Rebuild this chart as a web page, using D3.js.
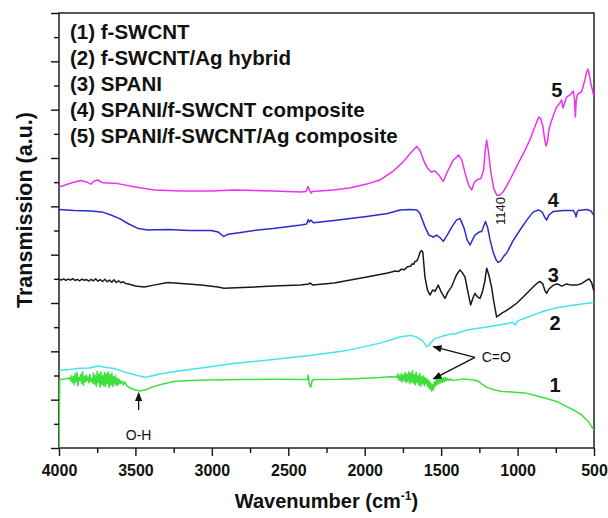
<!DOCTYPE html>
<html>
<head>
<meta charset="utf-8">
<script src="https://cdn.jsdelivr.net/npm/d3@7"></script>
<style>
  body { margin: 0; background: #fff; }
  svg { display: block; font-family: Arial, "Liberation Sans", sans-serif; }
</style>
</head>
<body>
<svg id="chart" width="608" height="518"></svg>
<script>
// wavenumber (cm-1), transmission (a.u.)
const spec1 = [
  [4000, 0], [3995, 2.83], [3960, 2.86],
  [3930, 2.90], [3924, 2.78], [3918, 3.00], [3912, 2.70], [3906, 2.95], [3900, 2.62], [3894, 3.08],
  [3888, 2.74], [3882, 3.12], [3876, 2.58], [3870, 2.92], [3864, 2.80], [3858, 3.05], [3852, 2.66],
  [3846, 3.16], [3840, 2.60], [3834, 2.98], [3828, 2.72], [3822, 3.02], [3816, 2.78], [3810, 2.94],
  [3804, 2.69], [3798, 3.04], [3792, 2.75], [3786, 2.88], [3780, 2.68], [3774, 3.10], [3768, 2.64],
  [3762, 3.00], [3756, 2.56], [3750, 3.18], [3744, 2.70], [3738, 3.06], [3732, 2.52], [3726, 3.14],
  [3720, 2.62], [3714, 3.00], [3708, 2.58], [3702, 3.12], [3696, 2.54], [3690, 3.08], [3684, 2.66],
  [3678, 3.16], [3672, 2.50], [3666, 3.04], [3660, 2.60], [3654, 3.10], [3648, 2.55], [3642, 2.96],
  [3636, 2.64], [3630, 3.00], [3624, 2.58], [3618, 2.88], [3612, 2.62], [3606, 2.84], [3600, 2.66],
  [3590, 2.78], [3580, 2.62], [3570, 2.74], [3560, 2.60],
  [3535, 2.48], [3500, 2.40], [3470, 2.36], [3430, 2.42], [3383, 2.54], [3320, 2.65],
  [3252, 2.75], [3134, 2.79], [3034, 2.81], [2800, 2.83], [2600, 2.84], [2420, 2.83], [2375, 2.83],
  [2369, 3.02], [2362, 2.61], [2352, 2.52], [2345, 2.77], [2335, 2.83], [2162, 2.84], [2096, 2.86],
  [1900, 2.92], [1835, 2.95], [1800, 2.94],
  [1790, 2.94], [1784, 3.06], [1778, 2.82], [1772, 3.00], [1766, 2.78], [1760, 3.08], [1754, 2.74],
  [1748, 3.02], [1742, 2.80], [1736, 3.12], [1730, 2.70], [1724, 3.06], [1718, 2.76], [1712, 3.16],
  [1706, 2.66], [1700, 3.10], [1694, 2.72], [1688, 3.20], [1682, 2.68], [1676, 3.04], [1670, 2.62],
  [1664, 3.14], [1658, 2.70], [1652, 3.00], [1646, 2.60], [1640, 3.08], [1634, 2.56], [1628, 2.96],
  [1622, 2.66], [1616, 2.98], [1610, 2.58], [1604, 2.92], [1598, 2.64], [1592, 2.86], [1586, 2.52],
  [1580, 2.80], [1574, 2.44], [1568, 2.70], [1562, 2.36], [1556, 2.62], [1550, 2.40], [1544, 2.74],
  [1538, 2.56], [1532, 2.86], [1526, 2.62], [1520, 2.90], [1514, 2.66], [1508, 2.92], [1502, 2.70],
  [1496, 2.88], [1490, 2.72], [1484, 2.90], [1478, 2.76], [1472, 2.92], [1466, 2.78], [1460, 2.88],
  [1450, 2.80], [1440, 2.86], [1430, 2.80],
  [1398, 2.81], [1350, 2.86], [1290, 2.81], [1260, 2.77], [1230, 2.63], [1202, 2.51], [1150, 2.40],
  [1100, 2.34], [1071, 2.33], [1000, 2.30], [950, 2.28], [897, 2.19], [800, 2.03], [734, 1.90],
  [679, 1.71], [620, 1.53], [582, 1.37], [540, 1.12], [500, 0.74]
];

const spec2 = [
  [4000, 3.21], [3900, 3.27], [3863, 3.30], [3800, 3.31], [3743, 3.39], [3700, 3.34], [3640, 3.29],
  [3580, 3.16], [3500, 3.02], [3437, 2.93], [3380, 3.00], [3339, 3.06], [3240, 3.17], [3034, 3.34],
  [2861, 3.50], [2598, 3.66], [2424, 3.79], [2358, 3.83], [2162, 3.99], [2096, 4.06], [1900, 4.34],
  [1769, 4.59], [1700, 4.66], [1660, 4.59], [1620, 4.43], [1595, 4.20], [1584, 4.22], [1560, 4.41],
  [1540, 4.53], [1500, 4.61], [1450, 4.70], [1400, 4.74], [1333, 4.88], [1200, 5.01], [1100, 5.11],
  [1040, 5.19], [1028, 5.17], [1015, 5.09], [1000, 5.26], [950, 5.38], [897, 5.50], [835, 5.65],
  [750, 5.79], [650, 5.90], [580, 5.96], [500, 6.02]
];

const spec3 = [
  [4000, 6.98], [3985, 6.95], [3970, 7.00], [3955, 6.94], [3940, 6.99], [3925, 6.95], [3910, 7.01],
  [3895, 6.93], [3880, 6.98], [3865, 6.92], [3850, 6.99], [3835, 6.94], [3820, 6.97], [3805, 6.91],
  [3790, 6.98], [3775, 6.92], [3760, 7.00], [3745, 6.90], [3730, 6.97], [3715, 6.89], [3700, 6.98],
  [3685, 6.88], [3670, 6.95], [3655, 6.86], [3640, 6.96], [3625, 6.85], [3610, 6.92], [3595, 6.84],
  [3580, 6.88], [3565, 6.81], [3550, 6.80], [3500, 6.70], [3442, 6.66], [3380, 6.74], [3289, 6.85],
  [3200, 6.81], [3071, 6.74], [2960, 6.66], [2921, 6.61], [2800, 6.64], [2600, 6.70], [2420, 6.74],
  [2365, 6.79], [2358, 6.83], [2340, 6.74], [2200, 6.83], [1987, 7.08], [1850, 7.24], [1800, 7.32],
  [1780, 7.30], [1760, 7.40], [1740, 7.38], [1720, 7.50], [1700, 7.52], [1690, 7.62], [1680, 7.60],
  [1671, 7.72], [1660, 7.74], [1650, 7.86], [1640, 8.07], [1630, 8.17], [1620, 8.11], [1606, 7.08],
  [1590, 6.54], [1573, 6.33], [1555, 6.54], [1540, 6.48], [1519, 6.74], [1500, 6.46], [1475, 6.19],
  [1455, 6.46], [1431, 6.68], [1400, 7.16], [1377, 7.37], [1360, 7.24], [1344, 7.08], [1325, 6.46],
  [1307, 5.92], [1292, 6.21], [1279, 6.40], [1262, 6.25], [1246, 6.19], [1230, 6.46], [1215, 6.87],
  [1202, 7.44], [1188, 7.16], [1170, 6.66], [1155, 6.04], [1137, 5.42], [1120, 5.50], [1100, 5.59],
  [1082, 5.65], [1040, 5.83], [1006, 5.99], [950, 6.33], [897, 6.67], [870, 6.83], [853, 6.89],
  [835, 6.79], [820, 6.50], [810, 6.40], [795, 6.58], [766, 6.74], [740, 6.79], [710, 6.70],
  [679, 6.79], [650, 6.74], [614, 6.74], [580, 6.81], [547, 6.95], [530, 6.99], [515, 6.83],
  [500, 6.48]
];

const spec4 = [
  [4000, 9.87], [3900, 9.83], [3791, 9.81], [3720, 9.77], [3660, 9.64], [3600, 9.48], [3550, 9.29],
  [3480, 9.08], [3420, 9.02], [3289, 9.04], [3150, 9.00], [3005, 9.00], [2960, 8.94], [2923, 8.75],
  [2900, 8.83], [2857, 8.88], [2700, 9.02], [2600, 9.08], [2417, 9.23], [2380, 9.27], [2370, 9.45],
  [2362, 9.35], [2352, 9.43], [2336, 9.32], [2200, 9.41], [1987, 9.58], [1850, 9.70], [1769, 9.85],
  [1700, 9.87], [1660, 9.85], [1640, 9.72], [1606, 9.16], [1580, 8.81], [1551, 8.73], [1529, 8.81],
  [1505, 8.69], [1486, 8.55], [1460, 8.81], [1431, 9.14], [1400, 9.43], [1377, 9.50], [1350, 9.10],
  [1330, 8.61], [1311, 8.40], [1295, 8.61], [1279, 8.81], [1250, 8.94], [1235, 8.96], [1210, 9.37],
  [1195, 9.10], [1180, 8.61], [1160, 8.11], [1140, 7.78], [1126, 7.68], [1110, 7.74], [1090, 7.94],
  [1071, 8.07], [1030, 8.57], [984, 9.02], [940, 9.43], [897, 9.77], [864, 9.85], [840, 9.77],
  [820, 9.52], [810, 9.43], [795, 9.64], [766, 9.79], [700, 9.83], [635, 9.83], [622, 9.68],
  [617, 9.56], [610, 9.77], [603, 9.83], [547, 9.87], [520, 9.81], [500, 9.62]
];

const spec5 = [
  [4000, 10.80], [3900, 11.01], [3856, 11.07], [3820, 11.01], [3791, 10.92], [3770, 11.05],
  [3747, 11.09], [3720, 10.99], [3681, 10.97], [3616, 10.94], [3500, 10.80], [3376, 10.68],
  [3200, 10.63], [3000, 10.63], [2855, 10.68], [2600, 10.63], [2417, 10.59], [2385, 10.61],
  [2370, 10.82], [2362, 10.68], [2352, 10.55], [2345, 10.61], [2206, 10.68], [2100, 10.76],
  [1987, 10.92], [1900, 11.09], [1813, 11.46], [1750, 11.83], [1700, 12.21], [1660, 12.48],
  [1640, 12.33], [1610, 11.83], [1590, 11.59], [1565, 11.42], [1540, 11.46], [1515, 11.30],
  [1486, 11.03], [1460, 11.42], [1420, 11.92], [1385, 12.12], [1365, 11.92], [1340, 11.30],
  [1318, 10.84], [1300, 10.68], [1285, 10.97], [1268, 11.09], [1240, 11.15], [1222, 11.50],
  [1210, 12.41], [1202, 12.74], [1192, 12.33], [1175, 11.42], [1155, 10.72], [1135, 10.45],
  [1115, 10.47], [1093, 10.61], [1050, 11.09], [1006, 11.65], [960, 12.21], [920, 12.74],
  [890, 13.24], [870, 13.57], [860, 13.70], [848, 13.61], [835, 13.32], [822, 12.74], [814, 12.50],
  [805, 12.66], [795, 13.16], [785, 13.41], [760, 13.86], [745, 14.11], [723, 14.28], [712, 14.40],
  [703, 14.07], [690, 14.32], [679, 14.52], [657, 14.61], [635, 14.77], [627, 14.40], [622, 13.70],
  [616, 14.40], [609, 14.61], [595, 14.69], [580, 14.75], [560, 15.23], [547, 15.58], [540, 15.68],
  [530, 15.43], [520, 15.06], [510, 14.81], [500, 14.52]
];

const seriesNames = [
  "(1) f-SWCNT",
  "(2) f-SWCNT/Ag hybrid",
  "(3) SPANI",
  "(4) SPANI/f-SWCNT composite",
  "(5) SPANI/f-SWCNT/Ag composite"
];
const seriesColors = ["#3ee03e", "#40e4f0", "#1a1a1a", "#2b2bd0", "#f030f0"];
const allSpectra = [spec1, spec2, spec3, spec4, spec5];

// curve number labels: [label, wavenumber, a.u.]
const curveTags = [["1", 755, 2.61], ["2", 755, 5.17], ["3", 766, 7.16], ["4", 766, 10.26], ["5", 744, 14.81]];

const xTicks = [4000, 3500, 3000, 2500, 2000, 1500, 1000, 500];
const xMinor = [3750, 3250, 2750, 2250, 1750, 1250, 750];

const width = 608, height = 518;
const margin = { top: 13, right: 14, bottom: 70, left: 59 };

const svg = d3.select("#chart");

const x = d3.scaleLinear().domain([4000, 500]).range([margin.left, width - margin.right]);
const y = d3.scaleLinear().domain([0, 18]).range([height - margin.bottom, margin.top]);

svg.append("clipPath").attr("id", "clip")
  .append("rect")
  .attr("x", margin.left).attr("y", margin.top)
  .attr("width", x(500) - x(4000)).attr("height", y(0) - y(18));

// axes
const xAxis = svg.append("g")
  .attr("transform", `translate(0,${y(0)})`)
  .call(d3.axisBottom(x).tickValues(xTicks).tickSize(8).tickPadding(8.5).tickFormat(d3.format("d")));
svg.append("g")
  .attr("transform", `translate(0,${y(0)})`)
  .call(d3.axisBottom(x).tickValues(xMinor).tickSize(5).tickFormat(""));
svg.append("g")
  .attr("transform", `translate(${x(4000)},0)`)
  .call(d3.axisLeft(y).tickValues(d3.range(0, 19, 2)).tickSize(8).tickFormat(""));
svg.append("g")
  .attr("transform", `translate(${x(4000)},0)`)
  .call(d3.axisLeft(y).tickValues(d3.range(1, 18, 2)).tickSize(5).tickFormat(""));

svg.selectAll(".domain").remove();
svg.selectAll(".tick line").attr("stroke", "#111").attr("stroke-width", 1.4);
xAxis.selectAll("text")
  .attr("fill", "#111")
  .style("font-size", "16px")
  .style("font-weight", "bold");

svg.append("rect")
  .attr("x", x(4000)).attr("y", y(18))
  .attr("width", x(500) - x(4000)).attr("height", y(0) - y(18))
  .attr("fill", "none").attr("stroke", "#111").attr("stroke-width", 1.4);

// spectra
const line = d3.line().x(d => x(d[0])).y(d => y(d[1]));

svg.append("g").attr("clip-path", "url(#clip)")
  .selectAll("path")
  .data(allSpectra)
  .join("path")
  .attr("d", line)
  .attr("fill", "none")
  .attr("stroke", (d, i) => seriesColors[i])
  .attr("stroke-width", 1.5)
  .attr("stroke-linejoin", "round");

// legend text
svg.append("g")
  .selectAll("text")
  .data(seriesNames)
  .join("text")
  .attr("x", 70)
  .attr("y", (d, i) => 39 + i * 26)
  .attr("fill", "#111")
  .style("font-size", "20.5px")
  .style("font-weight", "bold")
  .text(d => d);

svg.append("g")
  .selectAll("text")
  .data(curveTags)
  .join("text")
  .attr("x", d => x(d[1]))
  .attr("y", d => y(d[2]))
  .attr("dy", "0.36em")
  .attr("text-anchor", "middle")
  .attr("fill", "#111")
  .style("font-size", "20px")
  .style("font-weight", "bold")
  .text(d => d[0]);

// annotations
svg.append("defs").append("marker")
  .attr("id", "arrow")
  .attr("viewBox", "0 0 10 10")
  .attr("refX", 9).attr("refY", 5)
  .attr("markerWidth", 7).attr("markerHeight", 7)
  .attr("orient", "auto")
  .append("path").attr("d", "M0,1L10,5L0,9Z").attr("fill", "#111");

svg.append("line")
  .attr("x1", x(3479)).attr("y1", y(1.57))
  .attr("x2", x(3479)).attr("y2", y(2.28))
  .attr("stroke", "#111").attr("stroke-width", 1.3)
  .attr("marker-end", "url(#arrow)");
svg.append("text")
  .attr("x", x(3479)).attr("y", y(0.33))
  .attr("text-anchor", "middle")
  .attr("fill", "#111")
  .style("font-size", "14px")
  .text("O-H");

const coFrom = [1279, 3.75];
[[1551, 4.19], [1551, 2.86]].forEach(t => {
  svg.append("line")
    .attr("x1", x(coFrom[0])).attr("y1", y(coFrom[1]))
    .attr("x2", x(t[0])).attr("y2", y(t[1]))
    .attr("stroke", "#111").attr("stroke-width", 1.3)
    .attr("marker-end", "url(#arrow)");
});
svg.append("text")
  .attr("x", x(1235)).attr("y", y(3.56))
  .attr("fill", "#111")
  .style("font-size", "14px")
  .text("C=O");

svg.append("text")
  .attr("transform", `translate(${x(1115)},${y(9.81)}) rotate(-90)`)
  .attr("text-anchor", "middle")
  .attr("dy", "0.36em")
  .attr("fill", "#111")
  .style("font-size", "13px")
  .text("1140");

// axis titles
svg.append("text")
  .attr("transform", "translate(24,210) rotate(-90)")
  .attr("text-anchor", "middle")
  .attr("dy", "0.36em")
  .attr("fill", "#111")
  .style("font-size", "21.5px")
  .style("font-weight", "bold")
  .text("Transmission (a.u.)");

const xt = svg.append("text")
  .attr("x", (x(4000) + x(500)) / 2)
  .attr("y", 508)
  .attr("text-anchor", "middle")
  .attr("fill", "#111")
  .style("font-size", "20px")
  .style("font-weight", "bold");
xt.append("tspan").text("Wavenumber (cm");
xt.append("tspan").attr("dy", -8).style("font-size", "12px").text("-1");
xt.append("tspan").attr("dy", 8).text(")");
</script>
</body>
</html>
